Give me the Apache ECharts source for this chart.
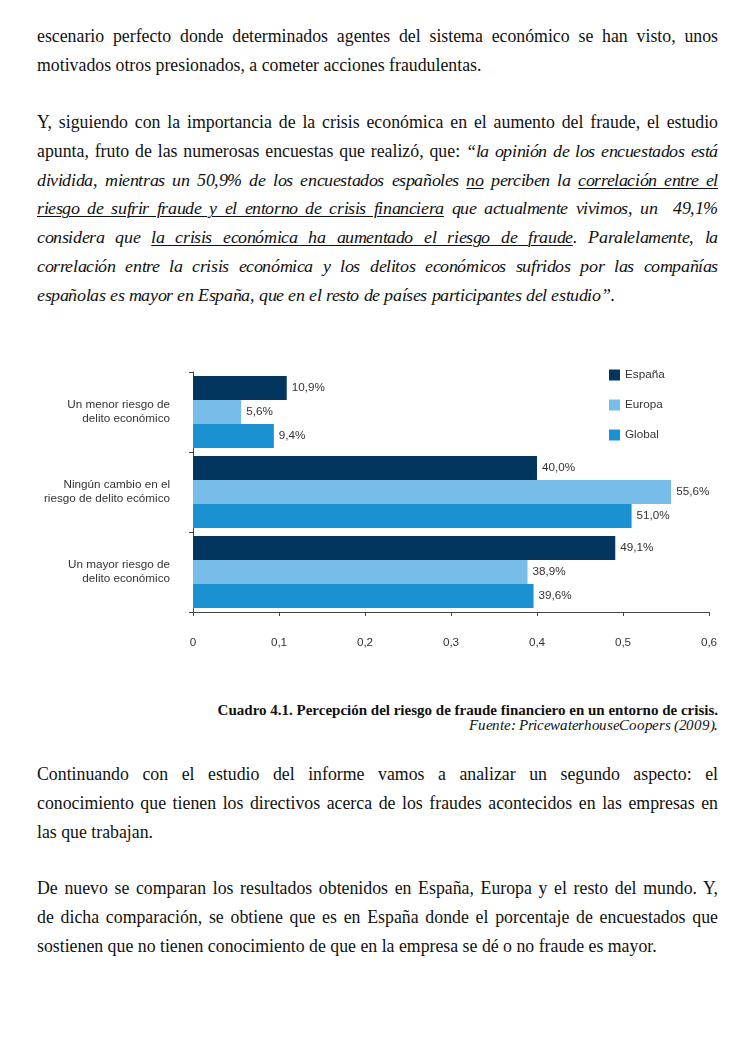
<!DOCTYPE html>
<html>
<head>
<meta charset="utf-8">
<script src="https://cdn.jsdelivr.net/npm/echarts@6/dist/echarts.min.js"></script>
<style>
  @font-face { font-family: 'PSerifIt'; src: local('Liberation Serif Italic'), local('LiberationSerif-Italic'), local('Times New Roman Italic'), local('TimesNewRomanPS-ItalicMT'); font-style: italic; font-weight: normal; }
  @font-face { font-family: 'PSerifSynth'; src: local('Liberation Serif'), local('LiberationSerif'), local('Times New Roman'); font-style: normal; font-weight: normal; }
  html, body { margin: 0; padding: 0; background: #fff; }
  body { width: 736px; height: 1039px; position: relative; overflow: hidden;
         font-family: "Liberation Serif", "Times New Roman", serif; color: #111; }
  .para { position: absolute; left: 37px; width: 681px; font-size: 17.8px; line-height: 28.8px; }
  .j { text-align: justify; text-align-last: justify; white-space: normal; }
  .l { text-align: left; }
  .para div { height: 28.8px; overflow: visible; }
  i, .it { font-family: 'PSerifIt', 'PSerifSynth', "Liberation Serif", serif; font-style: italic; letter-spacing: -0.4px; }
  u { text-decoration: underline; text-underline-offset: 2px; text-decoration-thickness: 1px; }
  #chart { position: absolute; left: 0; top: 340px; width: 736px; height: 330px; }
  .cap { position: absolute; right: 18px; text-align: right; font-size: 15px; line-height: 15px; white-space: nowrap; }
</style>
</head>
<body>

<div class="para" style="top:22px">
  <div class="j">escenario perfecto donde determinados agentes del sistema económico se han visto, unos</div>
  <div class="l">motivados otros presionados, a cometer acciones fraudulentas.</div>
</div>

<div class="para" style="top:108px">
  <div class="j">Y, siguiendo con la importancia de la crisis económica en el aumento del fraude, el estudio</div>
  <div class="j">apunta, fruto de las numerosas encuestas que realizó, que: <i>“la opinión de los encuestados está</i></div>
  <div class="j"><i>dividida, mientras un 50,9% de los encuestados españoles <u>no</u> perciben la <u>correlación entre el</u></i></div>
  <div class="j"><i><u>riesgo de sufrir fraude y el entorno de crisis financiera</u> que actualmente vivimos, un&nbsp; 49,1%</i></div>
  <div class="j"><i>considera que <u>la crisis económica ha aumentado el riesgo de fraude</u>. Paralelamente, la</i></div>
  <div class="j"><i>correlación entre la crisis económica y los delitos económicos sufridos por las compañías</i></div>
  <div class="l"><i>españolas es mayor en España, que en el resto de países participantes del estudio”</i>.</div>
</div>

<div id="chart"></div>

<div class="cap" style="top:703px; font-weight:bold;">Cuadro 4.1. Percepción del riesgo de fraude financiero en un entorno de crisis.</div>
<div class="cap it" style="top:718px; letter-spacing:-0.3px;">Fuente: PricewaterhouseCoopers (2009).</div>

<div class="para" style="top:760px">
  <div class="j">Continuando con el estudio del informe vamos a analizar un segundo aspecto: el</div>
  <div class="j">conocimiento que tienen los directivos acerca de los fraudes acontecidos en las empresas en</div>
  <div class="l">las que trabajan.</div>
</div>

<div class="para" style="top:874px">
  <div class="j">De nuevo se comparan los resultados obtenidos en España, Europa y el resto del mundo. Y,</div>
  <div class="j">de dicha comparación, se obtiene que es en España donde el porcentaje de encuestados que</div>
  <div class="l">sostienen que no tienen conocimiento de que en la empresa se dé o no fraude es mayor.</div>
</div>

<script>
const categories = [
  'Un menor riesgo de\ndelito económico',
  'Ningún cambio en el\nriesgo de delito ecómico',
  'Un mayor riesgo de\ndelito económico'
];
const seriesNames = ['España', 'Europa', 'Global'];
const espana = [0.109, 0.400, 0.491];
const europa = [0.056, 0.556, 0.389];
const global = [0.094, 0.510, 0.396];
const xTicks = [0, 0.1, 0.2, 0.3, 0.4, 0.5, 0.6];
const colors = ['#02365e', '#78bde9', '#1a92d2'];

const chart = echarts.init(document.getElementById('chart'), null, { renderer: 'canvas' });
const font = '"Liberation Sans", Arial, Helvetica, sans-serif';
const fs = 11.7;
const labelFmt = p => (p.value * 100).toFixed(1).replace('.', ',') + '%';

function bar(name, data, color) {
  return {
    name: name, type: 'bar', data: data,
    barGap: '0%', barCategoryGap: '10%',
    itemStyle: { color: color },
    label: { show: true, position: 'right', distance: 5, formatter: labelFmt,
             fontFamily: font, fontSize: fs, color: '#333' },
    emphasis: { disabled: true }
  };
}

chart.setOption({
  animation: false,
  textStyle: { fontFamily: font },
  grid: { left: 193, right: 27, top: 32, bottom: 58, containLabel: false },
  legend: {
    data: seriesNames, orient: 'vertical', left: 609, top: 29,
    itemWidth: 11, itemHeight: 11, itemGap: 18, icon: 'rect', padding: 0,
    textStyle: { fontFamily: font, fontSize: fs, color: '#333' }
  },
  xAxis: {
    type: 'value', min: xTicks[0], max: xTicks[xTicks.length - 1], interval: 0.1,
    axisLine: { show: true, lineStyle: { color: '#444', width: 1 } },
    axisTick: { show: true, length: 4, lineStyle: { color: '#444' } },
    splitLine: { show: false },
    axisLabel: { margin: 25, fontFamily: font, fontSize: fs, color: '#333',
                 formatter: v => String(Math.round(v * 10) / 10).replace('.', ',') }
  },
  yAxis: {
    type: 'category', data: categories, inverse: true,
    axisLine: { show: true, lineStyle: { color: '#444', width: 1 } },
    axisTick: { show: true, length: 4, lineStyle: { color: '#444' } },
    axisLabel: { margin: 23, fontFamily: font, fontSize: fs, color: '#333', lineHeight: 14, align: 'right' }
  },
  series: [
    bar(seriesNames[0], espana, colors[0]),
    bar(seriesNames[1], europa, colors[1]),
    bar(seriesNames[2], global, colors[2])
  ]
});
</script>
</body>
</html>
